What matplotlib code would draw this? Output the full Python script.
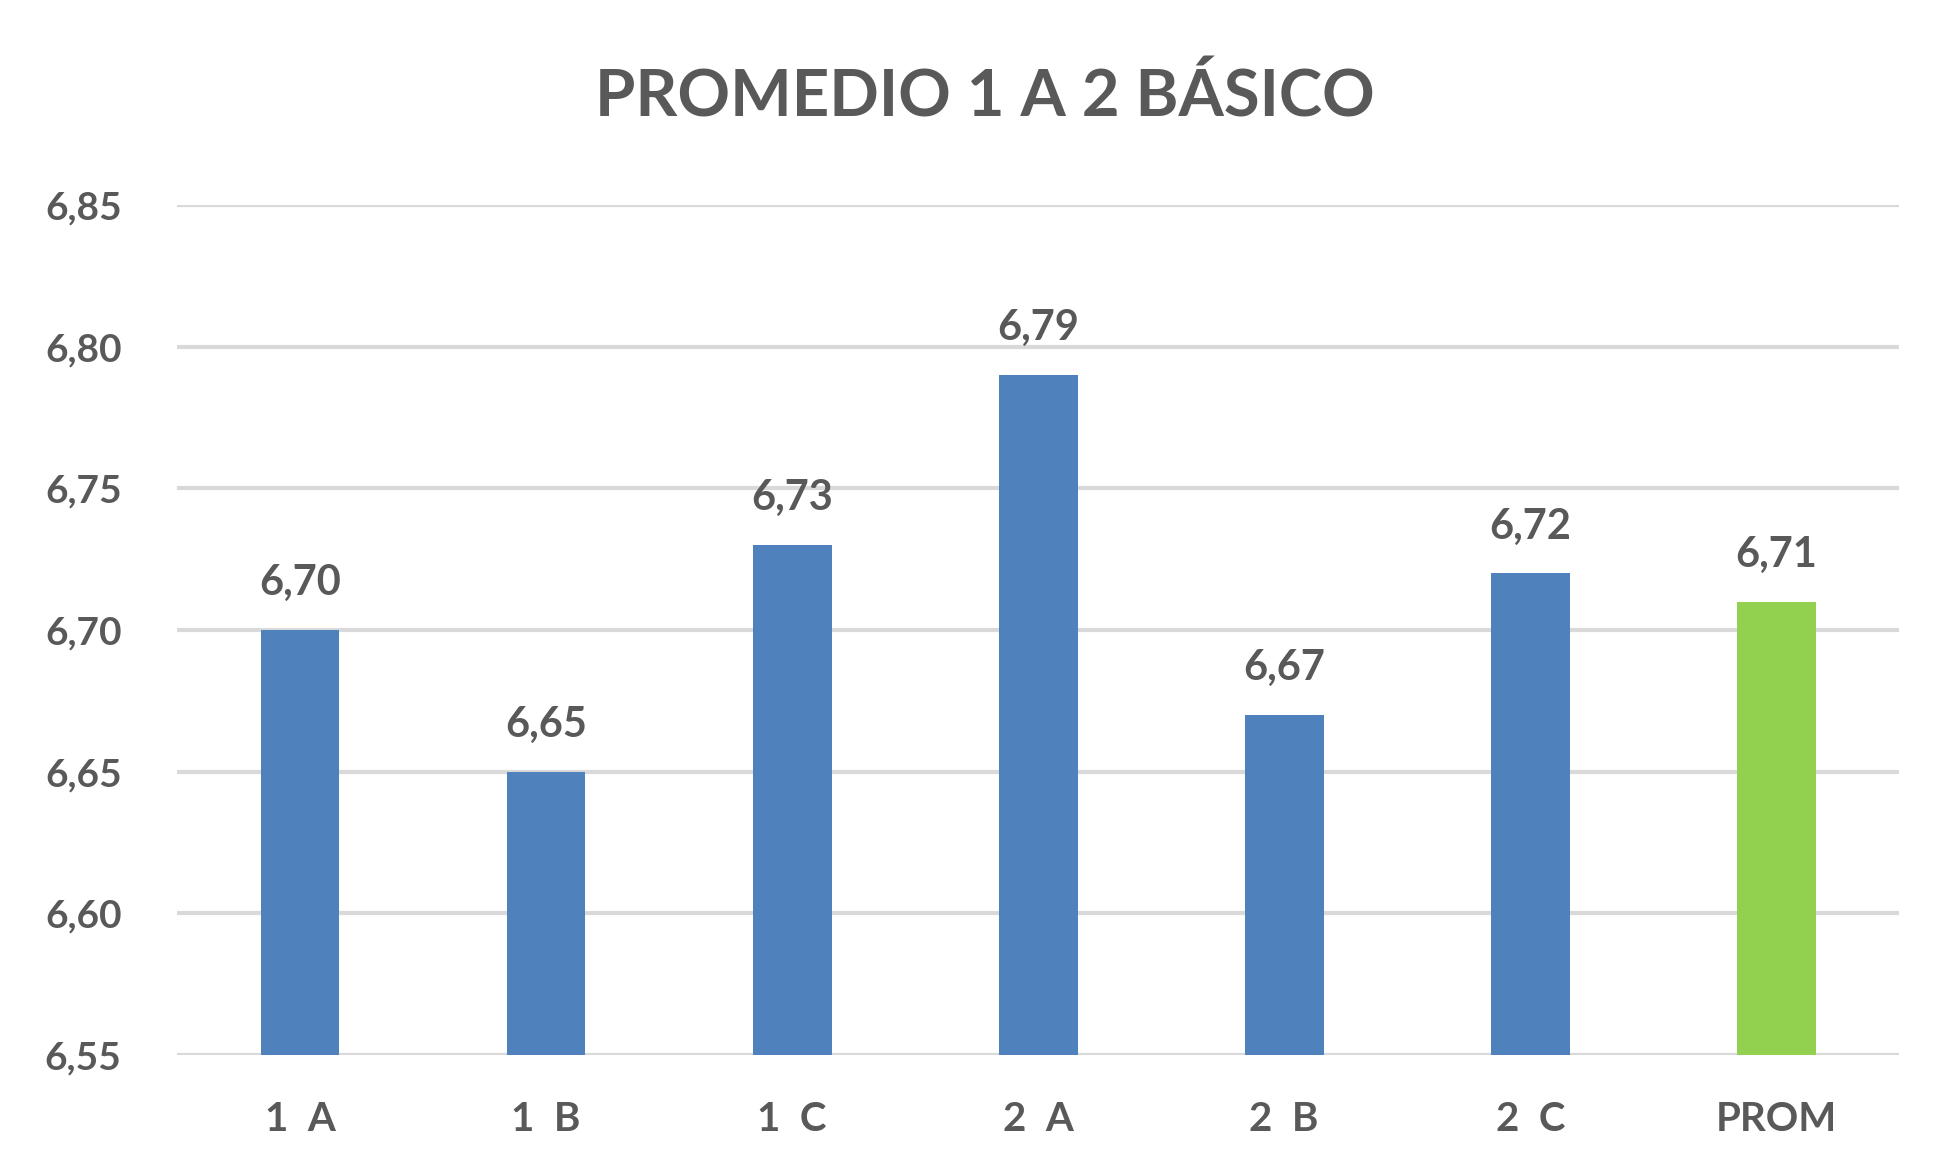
import matplotlib.pyplot as plt
import numpy as np

# datos del grafico
cursos = ["1  A", "1  B", "1  C", "2  A", "2  B", "2  C", "PROM"]
promedios = [6.70, 6.65, 6.73, 6.79, 6.67, 6.72, 6.71]
colores = ["#4F81BD"] * 6 + ["#92D050"]
yticks = [6.55, 6.60, 6.65, 6.70, 6.75, 6.80, 6.85]

gris = "#595959"
plt.rcParams['font.family'] = ['Lato', 'DejaVu Sans']

fig = plt.figure(figsize=(19.46, 11.71), dpi=100)
ax = fig.add_axes([0.091, 0.099, 0.885, 0.726])

x = np.arange(len(cursos))
ax.bar(x, promedios, width=0.32, color=colores, zorder=3)

for xi, v in zip(x, promedios):
	ax.annotate(f"{v:.2f}".replace(".", ","), (xi, v), xytext=(0, 20),
		textcoords="offset points", ha="center", va="bottom",
		fontsize=30, fontweight="bold", color=gris)

ax.set_ylim(6.55, 6.85)
ax.set_xlim(-0.5, len(cursos) - 0.5)
ax.set_yticks(yticks)
ax.set_yticklabels([f"{t:.2f}".replace(".", ",") for t in yticks])
ax.set_xticks(x)
ax.set_xticklabels(cursos)
ax.tick_params(axis="y", length=0, pad=40, labelsize=28, labelcolor=gris)
ax.tick_params(axis="x", length=0, pad=33, labelsize=29, labelcolor=gris)
for lab in ax.get_xticklabels() + ax.get_yticklabels():
	lab.set_fontweight("bold")

ax.grid(axis="y", color="#D9D9D9", linewidth=3, zorder=0)
for s in ax.spines.values():
	s.set_visible(False)

fig.text(0.506, 0.917, "PROMEDIO 1 A 2 BÁSICO", ha="center", va="center",
	fontsize=47, fontweight="bold", color=gris)

fig.savefig("out.png", dpi=100)
